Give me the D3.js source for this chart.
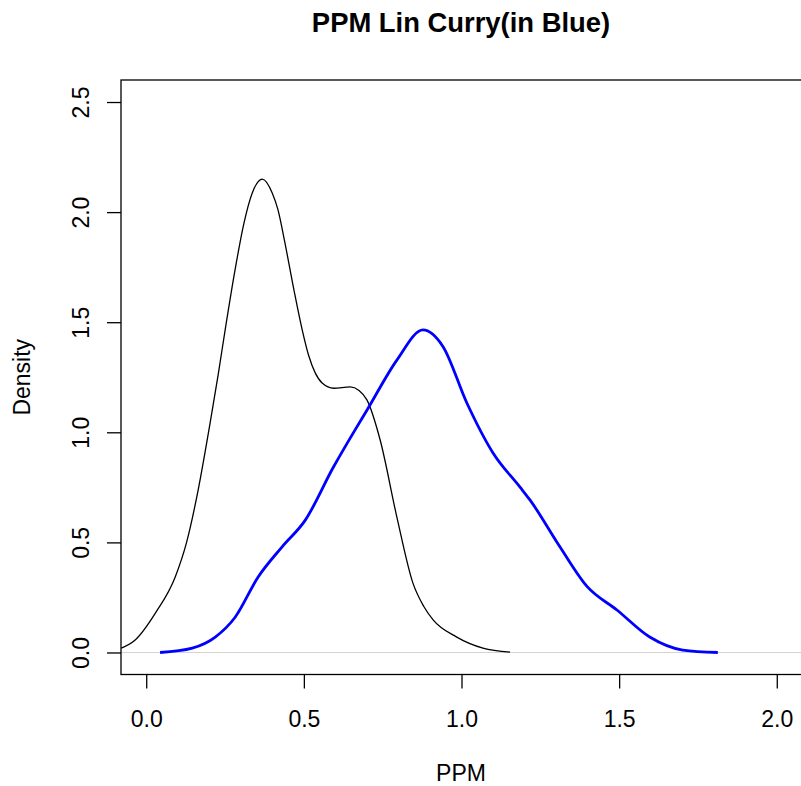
<!DOCTYPE html>
<html>
<head>
<meta charset="utf-8">
<script src="https://cdn.jsdelivr.net/npm/d3@7"></script>
<style>
  body { margin: 0; background: #fff; }
  text { font-family: "Liberation Sans", Arial, sans-serif; fill: #000; }
</style>
</head>
<body>
<div id="chart"></div>
<script>
// density of the first sample (black)
const blackX = [-0.079, -0.035, 0.029, 0.092, 0.128, 0.165, 0.200, 0.228, 0.252, 0.282, 0.310, 0.336, 0.368, 0.400, 0.418, 0.440, 0.468, 0.494, 0.515, 0.536, 0.558, 0.595, 0.647, 0.675, 0.700, 0.742, 0.795, 0.846, 0.880, 0.910, 0.985, 1.068, 1.154];
const blackY = [0.020, 0.057, 0.179, 0.343, 0.500, 0.740, 1.020, 1.260, 1.480, 1.740, 1.950, 2.086, 2.150, 2.086, 2.010, 1.860, 1.650, 1.470, 1.350, 1.270, 1.224, 1.200, 1.206, 1.190, 1.147, 0.965, 0.615, 0.315, 0.210, 0.148, 0.070, 0.020, 0.002];

// density of Lin Curry (blue)
const blueX = [0.044, 0.146, 0.219, 0.282, 0.355, 0.431, 0.504, 0.593, 0.662, 0.700, 0.795, 0.878, 0.941, 1.017, 1.100, 1.185, 1.217, 1.312, 1.398, 1.493, 1.597, 1.702, 1.813];
const blueY = [0.000, 0.020, 0.070, 0.160, 0.343, 0.480, 0.600, 0.840, 1.010, 1.100, 1.328, 1.465, 1.390, 1.133, 0.906, 0.752, 0.693, 0.480, 0.300, 0.193, 0.070, 0.011, 0.000];

const xTicks = [0, 0.5, 1, 1.5, 2];
const yTicks = [0, 0.5, 1, 1.5, 2, 2.5];

const width = 801;
const height = 786;

// plot region (R usr = xlim/ylim extended by 4%)
const x = d3.scaleLinear().domain([-0.08, 2.08]).range([121, 802]);
const y = d3.scaleLinear().domain([-0.1, 2.6]).range([674.5, 80]);

const svg = d3.select("#chart")
  .append("svg")
  .attr("width", width)
  .attr("height", height);

svg.append("defs").append("clipPath")
  .attr("id", "plotclip")
  .append("rect")
  .attr("x", x.range()[0])
  .attr("y", y.range()[1])
  .attr("width", x.range()[1] - x.range()[0])
  .attr("height", y.range()[0] - y.range()[1]);

const plot = svg.append("g").attr("clip-path", "url(#plotclip)");

// zero line
plot.append("line")
  .attr("x1", x.range()[0])
  .attr("x2", x.range()[1])
  .attr("y1", y(0))
  .attr("y2", y(0))
  .attr("stroke", "#d4d4d4")
  .attr("stroke-width", 1.2);

const line = d3.line()
  .x(d => x(d[0]))
  .y(d => y(d[1]))
  .curve(d3.curveMonotoneX);

plot.append("path")
  .datum(d3.zip(blackX, blackY))
  .attr("fill", "none")
  .attr("stroke", "#000")
  .attr("stroke-width", 1.3)
  .attr("d", line);

plot.append("path")
  .datum(d3.zip(blueX, blueY))
  .attr("fill", "none")
  .attr("stroke", "#0000ff")
  .attr("stroke-width", 2.8)
  .attr("d", line);

// box
svg.append("rect")
  .attr("x", x.range()[0])
  .attr("y", y.range()[1])
  .attr("width", x.range()[1] - x.range()[0])
  .attr("height", y.range()[0] - y.range()[1])
  .attr("fill", "none")
  .attr("stroke", "#000")
  .attr("stroke-width", 1.3);

// axes
const xAxis = svg.append("g")
  .attr("transform", `translate(0, ${y.range()[0]})`)
  .call(d3.axisBottom(x).tickValues(xTicks).tickFormat(d3.format(".1f")).tickSize(14));

const yAxis = svg.append("g")
  .attr("transform", `translate(${x.range()[0]}, 0)`)
  .call(d3.axisLeft(y).tickValues(yTicks).tickFormat(d3.format(".1f")).tickSize(14));

[xAxis, yAxis].forEach(g => {
  g.select(".domain").remove();
  g.selectAll("line").attr("stroke", "#000").attr("stroke-width", 1.3);
  g.selectAll("text").attr("font-size", 23).style("font-family", "Liberation Sans, Arial, sans-serif");
});

xAxis.selectAll(".tick text")
  .attr("y", 52.5)
  .attr("dy", null);

yAxis.selectAll(".tick text")
  .attr("text-anchor", "middle")
  .attr("dy", null)
  .attr("x", null)
  .attr("transform", "translate(-32, 0) rotate(-90)");

// labels
svg.append("text")
  .attr("x", 461)
  .attr("y", 32)
  .attr("text-anchor", "middle")
  .attr("font-size", 27.4)
  .attr("font-weight", "bold")
  .text("PPM Lin Curry(in Blue)");

svg.append("text")
  .attr("x", 461)
  .attr("y", 781)
  .attr("text-anchor", "middle")
  .attr("font-size", 23)
  .text("PPM");

svg.append("text")
  .attr("transform", `translate(30, ${(y.range()[0] + y.range()[1]) / 2}) rotate(-90)`)
  .attr("text-anchor", "middle")
  .attr("font-size", 23)
  .text("Density");
</script>
</body>
</html>
